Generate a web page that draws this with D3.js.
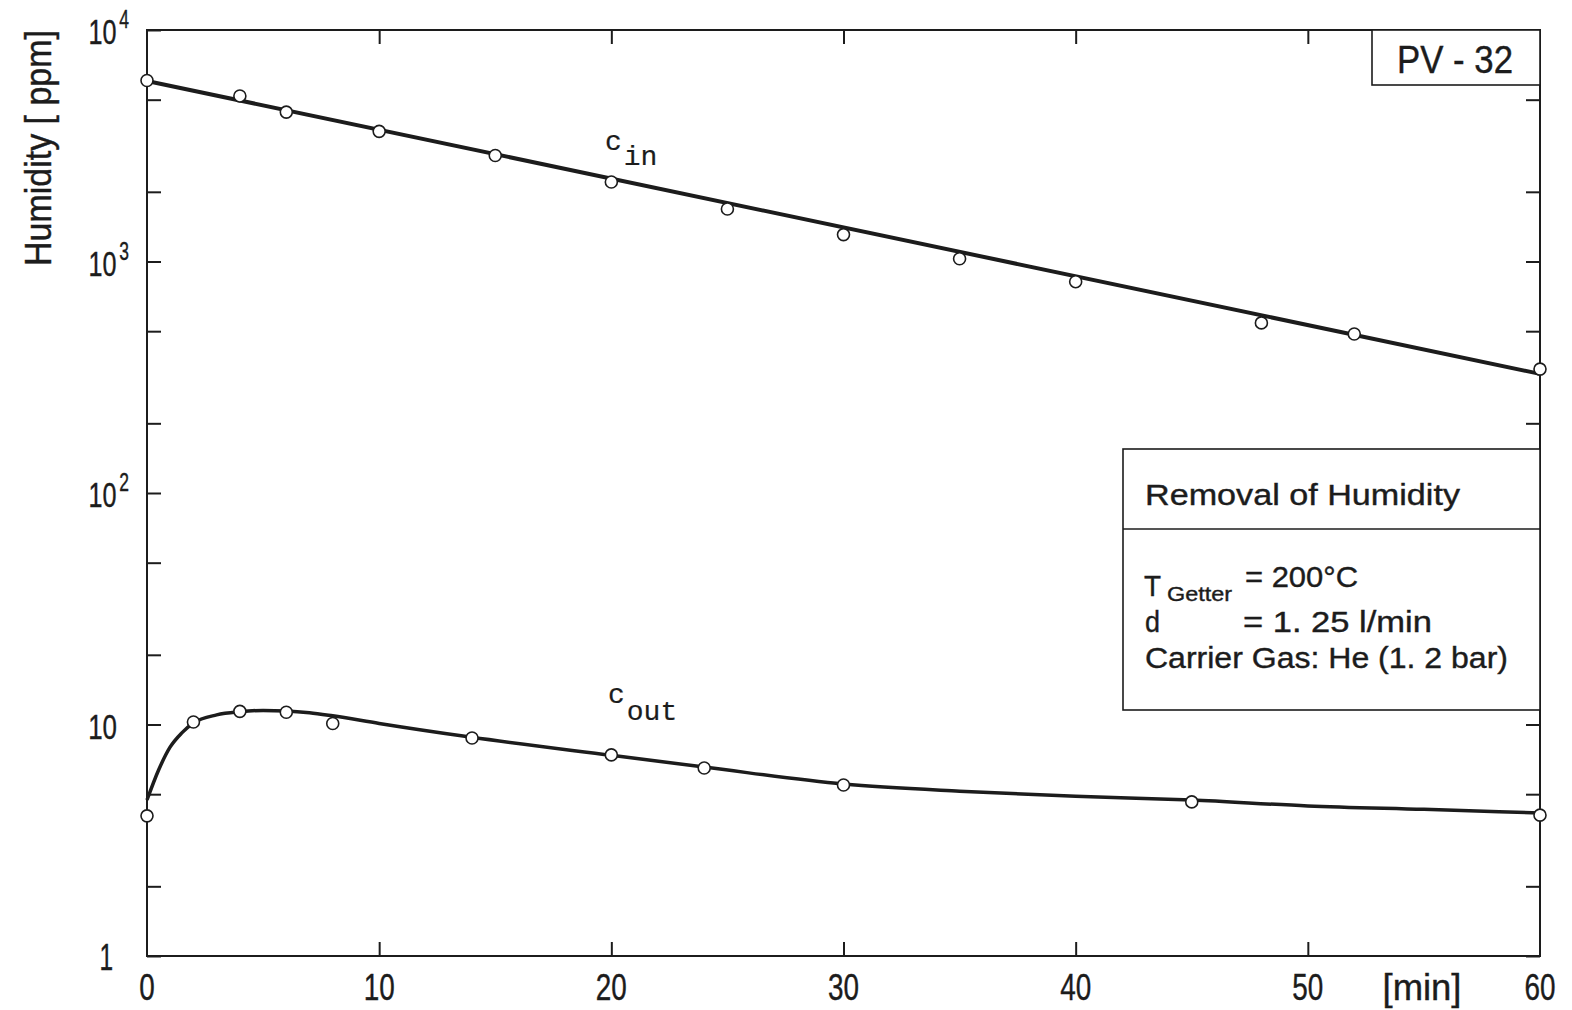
<!DOCTYPE html>
<html><head><meta charset="utf-8">
<script src="https://cdn.jsdelivr.net/npm/d3@7"></script>
<style>
body{margin:0;background:#fff}
svg text{font-family:"Liberation Sans Narrow","Liberation Sans",Arial,sans-serif;fill:#1c1c1c;stroke:#1c1c1c;stroke-width:0.4}
svg text.mono{font-family:"Liberation Mono","Courier New",monospace;stroke-width:0.2}
</style></head><body><svg id="chart" width="1572" height="1010"></svg>
<script>
// Measured humidity at the getter inlet (ppm) vs time (min)
const timeIn = [0, 4, 6, 10, 15, 20, 25, 30, 35, 40, 48, 52, 60];
const humidityIn = [6050, 5190, 4420, 3650, 2870, 2205, 1686, 1307, 1028, 818, 543, 486, 343];
// Measured humidity at the getter outlet (ppm)
const timeOut = [0, 2, 4, 6, 8, 14, 20, 24, 30, 45, 60];
const humidityOut = [4.03, 10.25, 11.4, 11.3, 10.1, 8.74, 7.39, 6.49, 5.48, 4.63, 4.06];
// Fitted inlet line (exponential decay, straight on the log axis)
const fitInTime = [0, 60];
const fitInValue = [6025, 327];
// Smoothed outlet curve
const fitOutTime = [0, 0.5, 1, 1.5, 2, 3, 4, 5, 6, 7, 8, 10, 14, 20, 24, 30, 35, 40, 45, 50, 55, 60];
const fitOutValue = [4.72, 6.36, 8.0, 9.2, 10.15, 11.0, 11.35, 11.5, 11.45, 11.25, 10.9, 10.1, 8.8, 7.36, 6.55, 5.53, 5.15, 4.9, 4.72, 4.45, 4.3, 4.15];
// Axis ticks
const xTicks = [0, 10, 20, 30, 40, 50, 60];
const xLabels = ["0", "10", "20", "30", "40", "50", "60"];
const yMajor = [1, 10, 100, 1000, 10000];
const yMinor = [2, 5, 20, 50, 200, 500, 2000, 5000];

const svg = d3.select("#chart");
const L = 147, R = 1540, T = 30, B = 956;
const ink = "#1c1c1c";

const x = d3.scaleLinear().domain([0, 60]).range([L, R]);
const y = d3.scaleLog().domain([1, 10000]).range([B, T]);

// condensed text helper: fixes the drawn width of a label
function label(g, px, py, size, str, width, anchor) {
  const t = g.append("text").attr("x", px).attr("y", py).attr("font-size", size)
    .attr("text-anchor", anchor || "start").text(str);
  if (width) t.attr("textLength", width).attr("lengthAdjust", "spacingAndGlyphs");
  return t;
}

// tick marks, all pointing into the plot
const tl = 14;
svg.append("g").attr("transform", `translate(${L},0)`)
  .call(d3.axisLeft(y).tickValues(yMajor.concat(yMinor)).tickSize(-tl).tickFormat(""));
svg.append("g").attr("transform", `translate(${R},0)`)
  .call(d3.axisRight(y).tickValues(yMajor.concat(yMinor)).tickSize(-tl).tickFormat(""));
svg.append("g").attr("transform", `translate(0,${B})`)
  .call(d3.axisBottom(x).tickValues(xTicks.slice(1, -1)).tickSize(-tl).tickFormat(""));
svg.append("g").attr("transform", `translate(0,${T})`)
  .call(d3.axisTop(x).tickValues(xTicks.slice(1, -1)).tickSize(-tl).tickFormat(""));
svg.selectAll(".domain").remove();
svg.selectAll(".tick line").attr("stroke", ink).attr("stroke-width", 2);

// frame
svg.append("rect").attr("x", L).attr("y", T).attr("width", R - L).attr("height", B - T)
  .attr("fill", "none").attr("stroke", ink).attr("stroke-width", 2);

// x tick labels
const xl = svg.append("g");
xTicks.forEach((d, i) => label(xl, x(d), 1000, 36, xLabels[i], xLabels[i].length * 15.5, "middle"));
label(xl, 1422, 1000, 36, "[min]", 79, "middle");

// y tick labels: 1, 10, then powers of ten (condensed horizontally)
const yl = svg.append("g");
yMajor.forEach(v => {
  const e = Math.round(Math.log10(v));
  const by = y(v) + 14;
  if (e === 0) {
    yl.append("text").attr("transform", `translate(113,${by}) scale(0.68,1)`)
      .attr("text-anchor", "end").attr("font-size", 36).text("1");
  } else if (e === 1) {
    yl.append("text").attr("transform", `translate(117,${by}) scale(0.72,1)`)
      .attr("text-anchor", "end").attr("font-size", 36).text("10");
  } else {
    const t = yl.append("text").attr("transform", `translate(129,${by}) scale(0.7,1)`)
      .attr("text-anchor", "end").attr("font-size", 36);
    t.append("tspan").text("10");
    t.append("tspan").attr("dx", 4).attr("dy", -16).attr("font-size", 25).text(String(e));
  }
});

// y axis title
svg.append("text").attr("transform", "translate(51,148) rotate(-90)")
  .attr("text-anchor", "middle").attr("font-size", 37)
  .attr("textLength", 236).attr("lengthAdjust", "spacingAndGlyphs").text("Humidity [ ppm]");

// fitted curves
const line = d3.line().x(d => x(d[0])).y(d => y(d[1]));
svg.append("path").datum(d3.zip(fitInTime, fitInValue))
  .attr("d", line).attr("fill", "none").attr("stroke", ink).attr("stroke-width", 4);
svg.append("path").datum(d3.zip(fitOutTime, fitOutValue))
  .attr("d", line.curve(d3.curveMonotoneX)).attr("fill", "none").attr("stroke", ink).attr("stroke-width", 3.5);

// measured points
function dots(ts, vs) {
  svg.append("g").selectAll("circle").data(d3.zip(ts, vs)).join("circle")
    .attr("cx", d => x(d[0])).attr("cy", d => y(d[1])).attr("r", 6)
    .attr("fill", "#fff").attr("stroke", ink).attr("stroke-width", 1.6);
}
dots(timeIn, humidityIn);
dots(timeOut, humidityOut);

// curve labels
const cin = svg.append("text").attr("class", "mono").attr("x", 605).attr("y", 150).attr("font-size", 28);
cin.append("tspan").text("c");
cin.append("tspan").attr("dy", 15).attr("dx", 2).text("in");
const cout = svg.append("text").attr("class", "mono").attr("x", 608).attr("y", 703).attr("font-size", 28);
cout.append("tspan").text("c");
cout.append("tspan").attr("dy", 17).attr("dx", 2).text("out");

// sample id box
svg.append("rect").attr("x", 1372).attr("y", T).attr("width", R - 1372).attr("height", 55)
  .attr("fill", "#fff").attr("stroke", ink).attr("stroke-width", 1.6);
label(svg, 1397, 73, 38, "PV - 32", 116);

// conditions box
svg.append("rect").attr("x", 1123).attr("y", 449).attr("width", R - 1123).attr("height", 261)
  .attr("fill", "#fff").attr("stroke", ink).attr("stroke-width", 1.6);
svg.append("line").attr("x1", 1123).attr("x2", R).attr("y1", 529).attr("y2", 529)
  .attr("stroke", ink).attr("stroke-width", 1.6);
label(svg, 1145, 505, 30, "Removal of Humidity", 315);
label(svg, 1144, 596, 30, "T", 17);
label(svg, 1167, 601, 21, "Getter", 65);
label(svg, 1245, 587, 30, "= 200°C", 113);
label(svg, 1145, 632, 30, "d", 15);
label(svg, 1243, 632, 30, "=  1. 25 l/min", 189);
label(svg, 1145, 668, 30, "Carrier Gas: He (1. 2 bar)", 363);
</script></body></html>
